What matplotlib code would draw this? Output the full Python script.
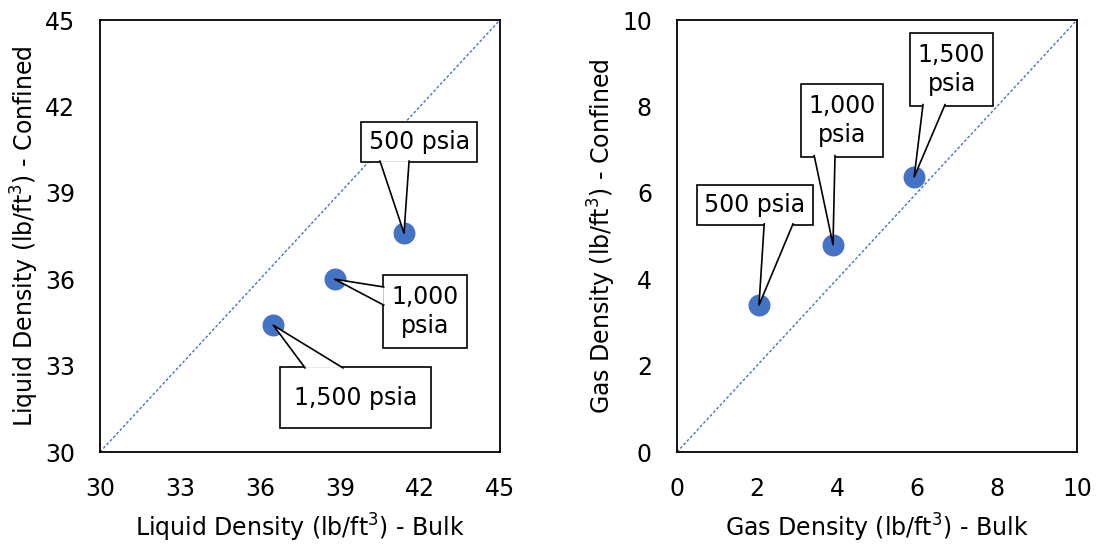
import matplotlib.pyplot as plt
from matplotlib.patches import Rectangle, Polygon

plt.rcParams['font.family'] = ['DejaVu Sans']

# liquid phase densities (lb/ft3)
liq_labels = ["500 psia", "1,000\npsia", "1,500 psia"]
liq_bulk = [41.4, 38.8, 36.5]
liq_confined = [37.6, 36.0, 34.4]

# gas phase densities (lb/ft3)
gas_labels = ["500 psia", "1,000\npsia", "1,500\npsia"]
gas_bulk = [2.05, 3.9, 5.93]
gas_confined = [3.4, 4.8, 6.37]

liq_ticks = [30, 33, 36, 39, 42, 45]
gas_ticks = [0, 2, 4, 6, 8, 10]

BLUE = "#4472C4"


def callout(ax, x, y, label, box, base):
    # box = (x0, y0, x1, y1), base = two points where the pointer leaves the box
    x0, y0, x1, y1 = box
    ax.add_patch(Rectangle((x0, y0), x1 - x0, y1 - y0, facecolor="white",
                           edgecolor="black", lw=1.2, zorder=4, clip_on=False))
    (bx0, by0), (bx1, by1) = base
    ax.add_patch(Polygon([(bx0, by0), (x, y), (bx1, by1)], closed=True,
                         facecolor="white", edgecolor="none", zorder=5,
                         clip_on=False))
    ax.plot([bx0, x, bx1], [by0, y, by1], color="black", lw=1.2, zorder=6,
            clip_on=False)
    ax.text((x0 + x1) / 2, (y0 + y1) / 2, label, ha="center", va="center",
            fontsize=17, linespacing=1.25, zorder=7)


def setup(ax, ticks, xlabel, ylabel):
    lo, hi = ticks[0], ticks[-1]
    ax.plot([lo, hi], [lo, hi], color=BLUE, lw=1, ls=(0, (2, 1.5)), zorder=1)
    ax.set_xlim(lo, hi)
    ax.set_ylim(lo, hi)
    ax.set_xticks(ticks)
    ax.set_yticks(ticks)
    ax.tick_params(length=0, labelsize=17, pad=18)
    for s in ax.spines.values():
        s.set_linewidth(1.3)
    ax.set_xlabel(xlabel, fontsize=17, labelpad=8)
    ax.set_ylabel(ylabel, fontsize=17, labelpad=3)


fig = plt.figure(figsize=(11.01, 5.44), dpi=100)
ax1 = fig.add_axes([100 / 1101, 92 / 544, 400 / 1101, 432 / 544])
ax2 = fig.add_axes([677 / 1101, 92 / 544, 400 / 1101, 432 / 544])

setup(ax1, liq_ticks, "Liquid Density (lb/ft$^3$) - Bulk",
      "Liquid Density (lb/ft$^3$) - Confined")
ax1.scatter(liq_bulk, liq_confined, s=250, color=BLUE, zorder=3, lw=0)

liq_boxes = [(39.79, 40.07, 44.14, 41.46),
             (40.61, 33.61, 43.76, 36.15),
             (36.75, 30.83, 42.41, 32.95)]
liq_bases = [((40.5, 40.1), (41.59, 40.1)),
             ((40.64, 35.73), (40.64, 35.10)),
             ((37.69, 32.92), (39.11, 32.92))]
for x, y, lab, box, base in zip(liq_bulk, liq_confined, liq_labels,
                                liq_boxes, liq_bases):
    callout(ax1, x, y, lab, box, base)

setup(ax2, gas_ticks, "Gas Density (lb/ft$^3$) - Bulk",
      "Gas Density (lb/ft$^3$) - Confined")
ax2.scatter(gas_bulk, gas_confined, s=250, color=BLUE, zorder=3, lw=0)

gas_boxes = [(0.5, 5.25, 3.4, 6.18),
             (3.1, 6.83, 5.15, 8.52),
             (5.83, 8.01, 7.9, 9.70)]
gas_bases = [((2.18, 5.28), (2.9, 5.28)),
             ((3.43, 6.86), (3.95, 6.86)),
             ((6.15, 8.04), (6.7, 8.04))]
for x, y, lab, box, base in zip(gas_bulk, gas_confined, gas_labels,
                                gas_boxes, gas_bases):
    callout(ax2, x, y, lab, box, base)

fig.savefig("out.png", dpi=100)
